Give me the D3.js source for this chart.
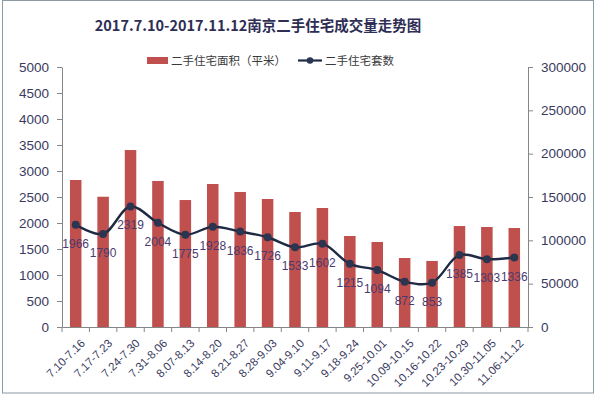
<!DOCTYPE html>
<html>
<head>
<meta charset="utf-8">
<script src="https://cdn.jsdelivr.net/npm/d3@7"></script>
<style>
  body { margin: 0; background: #fff; }
  svg { font-family: "Noto Sans CJK SC", "Noto Sans", sans-serif; }
</style>
</head>
<body>
<div class="chart"></div>
<script>
// data
var weeks = ["7.10-7.16", "7.17-7.23", "7.24-7.30", "7.31-8.06", "8.07-8.13", "8.14-8.20",
  "8.21-8.27", "8.28-9.03", "9.04-9.10", "9.11-9.17", "9.18-9.24", "9.25-10.01",
  "10.09-10.15", "10.16-10.22", "10.23-10.29", "10.30-11.05", "11.06-11.12"];
// 二手住宅面积 (平米), right axis
var areaValues = [169600, 150300, 204200, 168500, 146500, 165000, 155800, 147700, 132700,
  137300, 105000, 98100, 79600, 76200, 116500, 115400, 114200];
// 二手住宅套数, left axis
var countValues = [1966, 1790, 2319, 2004, 1775, 1928, 1836, 1726, 1533, 1602, 1215, 1094,
  872, 853, 1385, 1303, 1336];
var leftTicks = [0, 500, 1000, 1500, 2000, 2500, 3000, 3500, 4000, 4500, 5000];
var rightTicks = [0, 50000, 100000, 150000, 200000, 250000, 300000];

var svgWidth = 596;
var svgHeight = 396;
var margin = { top: 67, right: 68, bottom: 69, left: 62 };
var width = svgWidth - margin.left - margin.right;
var height = svgHeight - margin.top - margin.bottom;

var axisColor = "#868686";
var textColor = "#3a3a60";

var svg = d3.select(".chart")
  .append("svg")
    .attr("width", svgWidth)
    .attr("height", svgHeight);

// outer frame
svg.append("rect")
  .attr("x", 2.5).attr("y", 0.5)
  .attr("width", 591).attr("height", 392.5)
  .attr("fill", "none")
  .attr("stroke", "#8c9ba3");

// title
svg.append("text")
  .attr("x", 258).attr("y", 31)
  .attr("text-anchor", "middle")
  .attr("font-size", 14.5)
  .attr("font-weight", "bold")
  .attr("fill", "#2e2e55")
  .text("2017.7.10-2017.11.12南京二手住宅成交量走势图");

// legend
var legend = svg.append("g").attr("font-size", 11.5).attr("fill", "#3a3a3a");
legend.append("rect")
  .attr("x", 147).attr("y", 57).attr("width", 21).attr("height", 7)
  .attr("fill", "#c0504d");
legend.append("text").attr("x", 171).attr("y", 64.5).text("二手住宅面积（平米）");
legend.append("line")
  .attr("x1", 298).attr("x2", 322).attr("y1", 60.5).attr("y2", 60.5)
  .attr("stroke", "#1f2a44").attr("stroke-width", 2.2);
legend.append("circle").attr("cx", 310).attr("cy", 60.5).attr("r", 3.3).attr("fill", "#2b3550");
legend.append("text").attr("x", 325).attr("y", 64.5).text("二手住宅套数");

var chart = svg.append("g")
  .attr("transform", "translate(" + margin.left + "," + margin.top + ")");

// scales
var xBandScale = d3.scaleBand().domain(weeks).range([0, width]);
var yLeftScale = d3.scaleLinear().domain([0, 5000]).range([height, 0]);
var yRightScale = d3.scaleLinear().domain([0, 300000]).range([height, 0]);

var barWidth = xBandScale.bandwidth() * 0.42;

// bars
chart.selectAll(".bar")
  .data(areaValues)
  .enter()
  .append("rect")
    .attr("class", "bar")
    .attr("x", function(d, i) {
      return xBandScale(weeks[i]) + (xBandScale.bandwidth() - barWidth) / 2;
    })
    .attr("y", function(d) { return yRightScale(d); })
    .attr("width", barWidth)
    .attr("height", function(d) { return height - yRightScale(d); })
    .attr("fill", "#c0504d");

// axes
function styleAxis(g) {
  g.selectAll("path").attr("stroke", axisColor);
  g.selectAll("line").attr("stroke", axisColor);
  g.selectAll("text").attr("fill", textColor).attr("font-size", 13.5)
    .attr("font-family", "'Liberation Sans', 'Noto Sans', sans-serif");
}

var leftAxis = d3.axisLeft(yLeftScale).tickValues(leftTicks).tickFormat(d3.format("d"))
  .tickSize(5).tickSizeOuter(0).tickPadding(8);
chart.append("g").call(leftAxis).call(styleAxis);

var rightAxis = d3.axisRight(yRightScale).tickValues(rightTicks).tickFormat(d3.format("d"))
  .tickSize(5).tickSizeOuter(0).tickPadding(8);
chart.append("g")
  .attr("transform", "translate(" + width + ",0)")
  .call(rightAxis).call(styleAxis);

// x axis: labels at category centres, ticks at boundaries
var xAxis = d3.axisBottom(xBandScale).tickSize(0).tickSizeOuter(0);
var xg = chart.append("g")
  .attr("transform", "translate(0," + height + ")")
  .call(xAxis);
xg.select("path").attr("stroke", axisColor);
xg.selectAll("text")
  .attr("fill", textColor)
  .attr("font-size", 11.5)
  .attr("font-family", "'Liberation Sans', 'Noto Sans', sans-serif")
  .attr("text-anchor", "end")
  .attr("dy", "0.35em")
  .attr("transform", "translate(5,12) rotate(-45)");
xg.selectAll(".boundary")
  .data(d3.range(weeks.length + 1))
  .enter()
  .append("line")
    .attr("class", "boundary")
    .attr("x1", function(i) { return i * xBandScale.step(); })
    .attr("x2", function(i) { return i * xBandScale.step(); })
    .attr("y1", 0).attr("y2", 5)
    .attr("stroke", axisColor);

// smoothed line of counts
var lineGen = d3.line()
  .x(function(d, i) { return xBandScale(weeks[i]) + xBandScale.bandwidth() / 2; })
  .y(function(d) { return yLeftScale(d); })
  .curve(d3.curveCatmullRom.alpha(0.5));

chart.append("path")
  .datum(countValues)
  .attr("d", lineGen)
  .attr("fill", "none")
  .attr("stroke", "#1f2a44")
  .attr("stroke-width", 2.4);

chart.selectAll(".dot")
  .data(countValues)
  .enter()
  .append("circle")
    .attr("class", "dot")
    .attr("cx", function(d, i) { return xBandScale(weeks[i]) + xBandScale.bandwidth() / 2; })
    .attr("cy", function(d) { return yLeftScale(d); })
    .attr("r", 4)
    .attr("fill", "#2b3550");

chart.selectAll(".label")
  .data(countValues)
  .enter()
  .append("text")
    .attr("class", "label")
    .attr("x", function(d, i) { return xBandScale(weeks[i]) + xBandScale.bandwidth() / 2; })
    .attr("y", function(d) { return yLeftScale(d) + 23; })
    .attr("text-anchor", "middle")
    .attr("font-size", 12)
    .attr("font-family", "'Liberation Sans', 'Noto Sans', sans-serif")
    .attr("fill", "#4b3a6e")
    .text(function(d) { return d; });
</script>
</body>
</html>
